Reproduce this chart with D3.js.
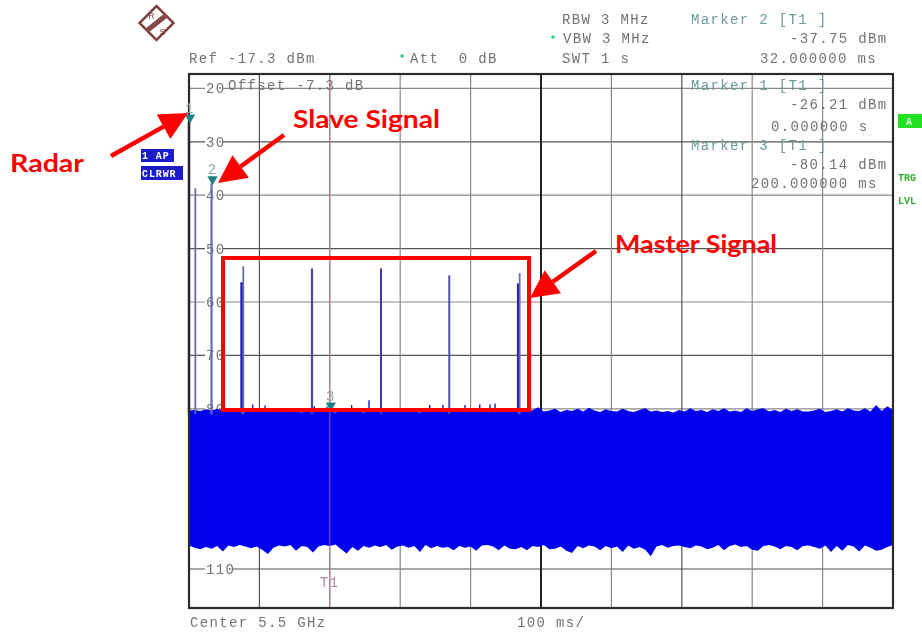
<!DOCTYPE html>
<html>
<head>
<meta charset="utf-8">
<script src="https://cdn.jsdelivr.net/npm/d3@7"></script>
<style>
  html, body { margin: 0; padding: 0; background: #fff; }
  svg { display: block; }
  .mono { font-family: "Liberation Mono", monospace; font-size: 14px; letter-spacing: 1.35px; white-space: pre; }
  .note { font-family: Lato, sans-serif; font-weight: 700; font-size: 25px; fill: #ff0000; }
</style>
</head>
<body>
<div id="chart"></div>
<script>
// level ticks printed in the plot, -90 and -100 sit under the noise
const gridLevels = [-20, -30, -40, -50, -60, -70, -80, -90, -100, -110];
const printedLevels = [-20, -30, -40, -50, -60, -70, -80, -110];
const gridTimes = [100, 200, 300, 400, 500, 600, 700, 800, 900];

// tall pulses: time in ms, level in dBm
const pulseTimes = [0, 9, 32, 74.9, 77.1, 174.7, 272.7, 369.7, 467.8, 469.7];
const pulseLevels = [-26.21, -38.7, -37.75, -56.3, -53.3, -53.7, -53.7, -55, -56.5, -54.6];
const pulseWidths = [2.5, 1.8, 2.2, 2.8, 1.8, 2.2, 2, 2, 2.8, 1.8];
const pulseColors = ["#3a3a8a", "#6a6ab4", "#6a6ab4", "#2020b0", "#6a6ab4", "#4a4aa0", "#3a3aa0", "#5050a8", "#2020b0", "#6a6ab4"];

// little spurs on top of the noise
const spurTimes = [90.4, 108, 231, 255.7, 342, 360.8, 392, 413, 427.5, 434.7, 196, 178];
const spurLevels = [-79.2, -79.4, -79.3, -78.4, -79.3, -79.3, -79.3, -79.2, -79.2, -79, -79.6, -79.5];

// noise envelope, one reading every 8 ms
const noiseStep = 8;
const noiseTop = [
  -80.3, -80.2, -80.4, -80.1, -80.3, -80.0, -80.3, -80.2, -80.5, -80.4, -80.2, -80.6, -80.3, -80.5, -80.2, -80.6,
  -80.4, -80.3, -80.6, -80.4, -80.7, -80.3, -80.5, -80.6, -80.2, -80.5, -80.7, -80.4, -80.6, -80.3, -80.5, -80.7,
  -80.4, -80.6, -80.2, -80.5, -80.3, -80.6, -80.4, -80.2, -80.5, -80.7, -80.3, -80.5, -80.2, -80.6, -80.4, -80.3,
  -80.5, -80.2, -80.4, -80.6, -80.3, -80.1, -80.5, -80.3, -80.6, -80.4, -80.5, -80.1, -80.6, -80.2, -79.7, -80.5,
  -80.3, -80.0, -80.6, -80.2, -80.4, -80.0, -80.5, -79.8, -80.3, -80.6, -80.1, -80.4, -80.5, -80.0, -80.4, -80.6,
  -80.2, -79.9, -80.5, -80.3, -80.6, -80.4, -80.7, -80.2, -80.5, -79.9, -80.4, -80.2, -80.6, -80.1, -80.4, -79.9,
  -80.5, -80.3, -80.6, -79.9, -80.4, -80.1, -79.9, -80.5, -80.2, -80.6, -80.0, -80.4, -80.1, -80.5, -80.5, -80.3,
  -80.0, -80.6, -80.4, -80.1, -80.5, -79.9, -80.3, -80.4, -79.9, -80.5, -79.3, -80.4, -79.5, -80.2
];
const noiseBottom = [
  -105.6, -106.0, -106.3, -105.9, -106.2, -105.7, -106.7, -105.6, -105.9, -105.5, -105.8, -106.1, -105.8, -106.4, -107.2, -106.0,
  -105.6, -105.8, -105.5, -106.6, -105.7, -105.9, -106.9, -105.8, -105.5, -105.7, -105.4, -106.3, -107.1, -105.9, -106.6, -105.7,
  -106.0, -105.6, -105.9, -105.5, -106.4, -105.8, -105.6, -106.0, -105.7, -106.8, -105.5, -106.1, -105.7, -106.0, -105.9, -106.5,
  -105.7, -106.0, -105.8, -106.6, -105.6, -105.5, -105.8, -106.5, -105.6, -106.2, -106.3, -105.9, -106.5, -105.7, -105.9, -105.5,
  -106.3, -106.2, -105.8, -106.6, -107.0, -105.7, -106.1, -105.6, -105.8, -106.5, -105.7, -106.1, -105.8, -106.8, -105.6, -106.2,
  -105.9, -106.4, -107.6, -105.8, -105.5, -106.0, -105.7, -105.6, -105.9, -106.1, -105.6, -105.8, -106.3, -106.0, -105.5, -106.5,
  -105.7, -105.4, -105.9, -105.7, -106.4, -106.6, -105.7, -105.5, -105.8, -106.3, -105.7, -105.9, -106.5, -105.7, -105.6, -105.9,
  -106.2, -105.6, -106.8, -105.7, -106.6, -105.5, -105.8, -106.7, -105.6, -106.0, -106.6, -106.4, -105.9, -105.5
];

// marker triangles
const markerIds = ["1", "2", "3"];
const markerTimes = [0, 32, 200];
const markerLevels = [-26.21, -37.75, -80.14];

// text around the screen
const headerLines = [
  ["Ref -17.3 dBm", 189, 63, "#737373"],
  ["Att  0 dB", 410, 63, "#737373"],
  ["Offset -7.3 dB", 228, 90, "#737373"],
  ["RBW 3 MHz", 562, 24, "#737373"],
  ["VBW 3 MHz", 563, 43, "#737373"],
  ["SWT 1 s", 562, 63, "#737373"],
  ["Center 5.5 GHz", 190, 627, "#737373"],
  ["100 ms/", 517, 627, "#737373"]
];
const markerLines = [
  ["Marker 2 [T1 ]", 691, 24, "#6b9a9a"],
  ["-37.75 dBm", 790, 43, "#737373"],
  ["32.000000 ms", 760, 63, "#737373"],
  ["Marker 1 [T1 ]", 691, 90, "#6b9a9a"],
  ["-26.21 dBm", 790, 109, "#737373"],
  ["0.000000 s", 771, 131, "#737373"],
  ["Marker 3 [T1 ]", 691, 150, "#6b9a9a"],
  ["-80.14 dBm", 790, 169, "#737373"],
  ["200.000000 ms", 751, 188, "#737373"]
];

const width = 922, height = 634;
const plotLeft = 189, plotRight = 893, plotTop = 74, plotBottom = 608;

const x = d3.scaleLinear().domain([0, 1000]).range([plotLeft, plotRight]);
const y = d3.scaleLinear().domain([-17.3, -117.3]).range([plotTop, plotBottom]);

const svg = d3.select("#chart").append("svg")
  .attr("width", width)
  .attr("height", height);

// the reference is a soft screenshot
svg.append("filter").attr("id", "soft")
  .append("feGaussianBlur").attr("stdDeviation", 0.4);

const shot = svg.append("g").attr("filter", "url(#soft)");

// grid
shot.selectAll(".hgrid").data(gridLevels).enter().append("line")
  .attr("x1", plotLeft).attr("x2", plotRight)
  .attr("y1", d => y(d)).attr("y2", d => y(d))
  .attr("stroke", (d, i) => i % 2 ? "#555" : "#888")
  .attr("stroke-width", 1.2);

shot.selectAll(".vgrid").data(gridTimes).enter().append("line")
  .attr("x1", d => x(d)).attr("x2", d => x(d))
  .attr("y1", plotTop).attr("y2", plotBottom)
  .attr("stroke", d => d == 500 ? "#222" : (d == 100 || d == 700 ? "#555" : "#888"))
  .attr("stroke-width", d => d == 500 ? 2 : 1.2);

// level labels break the grid lines
const levelLabels = shot.selectAll(".level").data(printedLevels).enter().append("g");
levelLabels.append("rect")
  .attr("x", 205).attr("y", d => y(d) - 7)
  .attr("width", d => d < -100 ? 28 : 18).attr("height", 13)
  .attr("fill", "#fff");
levelLabels.append("text")
  .attr("class", "mono")
  .attr("x", 206).attr("y", d => y(d) + 5)
  .attr("fill", "#737373")
  .text(d => Math.abs(d));

// noise band
const noiseArea = d3.area()
  .x((d, i) => x(i * noiseStep))
  .y0((d, i) => y(noiseBottom[i]))
  .y1(d => y(d));

shot.append("path")
  .datum(noiseTop)
  .attr("d", noiseArea)
  .attr("fill", "#0000ee");

// pulses
shot.selectAll(".pulse").data(pulseTimes).enter().append("line")
  .attr("x1", d => x(d)).attr("x2", d => x(d))
  .attr("y1", (d, i) => y(pulseLevels[i]))
  .attr("y2", y(-81))
  .attr("stroke", (d, i) => pulseColors[i])
  .attr("stroke-width", (d, i) => pulseWidths[i]);

shot.selectAll(".spur").data(spurTimes).enter().append("line")
  .attr("x1", d => x(d)).attr("x2", d => x(d))
  .attr("y1", (d, i) => y(spurLevels[i]))
  .attr("y2", y(-81))
  .attr("stroke", "#1a1ab8")
  .attr("stroke-width", 1.4);

// display line T1
shot.append("line")
  .attr("x1", x(200)).attr("x2", x(200))
  .attr("y1", plotTop).attr("y2", plotBottom)
  .attr("stroke", "#c0708a")
  .attr("stroke-opacity", 0.8)
  .attr("stroke-width", 1);
shot.append("text").attr("class", "mono")
  .attr("x", 320).attr("y", 587)
  .attr("fill", "#b98a90")
  .text("T1");

// frame
shot.append("rect")
  .attr("x", plotLeft).attr("y", plotTop)
  .attr("width", plotRight - plotLeft).attr("height", plotBottom - plotTop)
  .attr("fill", "none")
  .attr("stroke", "#2a2a2a")
  .attr("stroke-width", 2.2);

// markers
const tri = d3.symbol().type(d3.symbolTriangle).size(46);
shot.selectAll(".marker").data(markerTimes).enter().append("path")
  .attr("d", tri)
  .attr("transform", (d, i) => "translate(" + (x(d) + 1) + "," + (y(markerLevels[i]) - 4) + ") rotate(180)")
  .attr("fill", "#1f8080");
shot.selectAll(".markerId").data(markerIds).enter().append("text")
  .attr("class", "mono")
  .attr("text-anchor", "middle")
  .attr("x", (d, i) => x(markerTimes[i]) + 1)
  .attr("y", (d, i) => y(markerLevels[i]) - 9)
  .attr("fill", "#8fa5a5")
  .text(d => d);

// header and marker text
shot.selectAll(".line").data(headerLines.concat(markerLines)).enter().append("text")
  .attr("class", "mono")
  .attr("x", d => d[1])
  .attr("y", d => d[2])
  .attr("fill", d => d[3])
  .text(d => d[0]);

// green dots in front of Att and VBW
shot.append("circle").attr("cx", 402).attr("cy", 56).attr("r", 1.8).attr("fill", "#33cc77");
shot.append("circle").attr("cx", 553).attr("cy", 37).attr("r", 1.8).attr("fill", "#33cc77");

// trace badge
shot.append("rect").attr("x", 141).attr("y", 149).attr("width", 33).attr("height", 13).attr("fill", "#1a1ac8");
shot.append("rect").attr("x", 141).attr("y", 166).attr("width", 42).attr("height", 14).attr("fill", "#1a1ac8");
shot.append("text").attr("x", 142).attr("y", 159)
  .style("font", "bold 10px 'Liberation Mono', monospace").style("letter-spacing", "0.9px")
  .attr("fill", "#fff").text("1 AP");
shot.append("text").attr("x", 142).attr("y", 177)
  .style("font", "bold 10px 'Liberation Mono', monospace").style("letter-spacing", "0.9px")
  .attr("fill", "#fff").text("CLRWR");

// right side flags
shot.append("rect").attr("x", 898).attr("y", 114).attr("width", 24).attr("height", 14).attr("fill", "#22e022");
shot.append("text").attr("x", 906).attr("y", 125)
  .style("font", "bold 10px 'Liberation Mono', monospace")
  .attr("fill", "#d8ffd8").text("A");
shot.append("text").attr("x", 898).attr("y", 181)
  .style("font", "bold 10px 'Liberation Mono', monospace")
  .attr("fill", "#33b033").text("TRG");
shot.append("text").attr("x", 898).attr("y", 204)
  .style("font", "bold 10px 'Liberation Mono', monospace")
  .attr("fill", "#33b033").text("LVL");

// logo
const logo = shot.append("g").attr("transform", "translate(156.5,23)");
logo.append("rect")
  .attr("x", -12).attr("y", -12).attr("width", 24).attr("height", 24)
  .attr("transform", "rotate(45)")
  .attr("fill", "#fff").attr("stroke", "#7d3f3f").attr("stroke-width", 2.5);
logo.append("line")
  .attr("x1", -10).attr("y1", 8).attr("x2", 10).attr("y2", -8)
  .attr("stroke", "#8a4a4a").attr("stroke-width", 5);
logo.append("text").attr("x", -5).attr("y", -4).attr("text-anchor", "middle")
  .style("font", "9px 'Liberation Sans', sans-serif").attr("fill", "#7d3f3f").text("R");
logo.append("text").attr("x", 6).attr("y", 12).attr("text-anchor", "middle")
  .style("font", "9px 'Liberation Sans', sans-serif").attr("fill", "#7d3f3f").text("S");

// red annotations, pasted on top of the screenshot
const notes = svg.append("g");

notes.append("rect")
  .attr("x", 223).attr("y", 258)
  .attr("width", 306).attr("height", 152)
  .attr("fill", "none")
  .attr("stroke", "#ff0000")
  .attr("stroke-width", 4);

function addArrow(x1, y1, x2, y2) {
  var angle = Math.atan2(y2 - y1, x2 - x1);
  var len = 28, half = 14;
  var bx = x2 - len * Math.cos(angle);
  var by = y2 - len * Math.sin(angle);
  notes.append("line")
    .attr("x1", x1).attr("y1", y1).attr("x2", bx).attr("y2", by)
    .attr("stroke", "#ff0000").attr("stroke-width", 4.5);
  notes.append("polygon")
    .attr("points", [
      [x2, y2],
      [bx - half * Math.sin(angle), by + half * Math.cos(angle)],
      [bx + half * Math.sin(angle), by - half * Math.cos(angle)]
    ].map(p => p.join(",")).join(" "))
    .attr("fill", "#ff0000");
}

addArrow(111, 156, 188, 113);
addArrow(284, 135, 218, 183);
addArrow(596, 251, 530, 298);

notes.append("text").attr("class", "note")
  .attr("x", 10).attr("y", 172)
  .attr("textLength", 74).attr("lengthAdjust", "spacingAndGlyphs")
  .text("Radar");
notes.append("text").attr("class", "note")
  .attr("x", 293).attr("y", 128)
  .attr("textLength", 147).attr("lengthAdjust", "spacingAndGlyphs")
  .text("Slave Signal");
notes.append("text").attr("class", "note")
  .attr("x", 615).attr("y", 253)
  .attr("textLength", 162).attr("lengthAdjust", "spacingAndGlyphs")
  .text("Master Signal");
</script>
</body>
</html>
